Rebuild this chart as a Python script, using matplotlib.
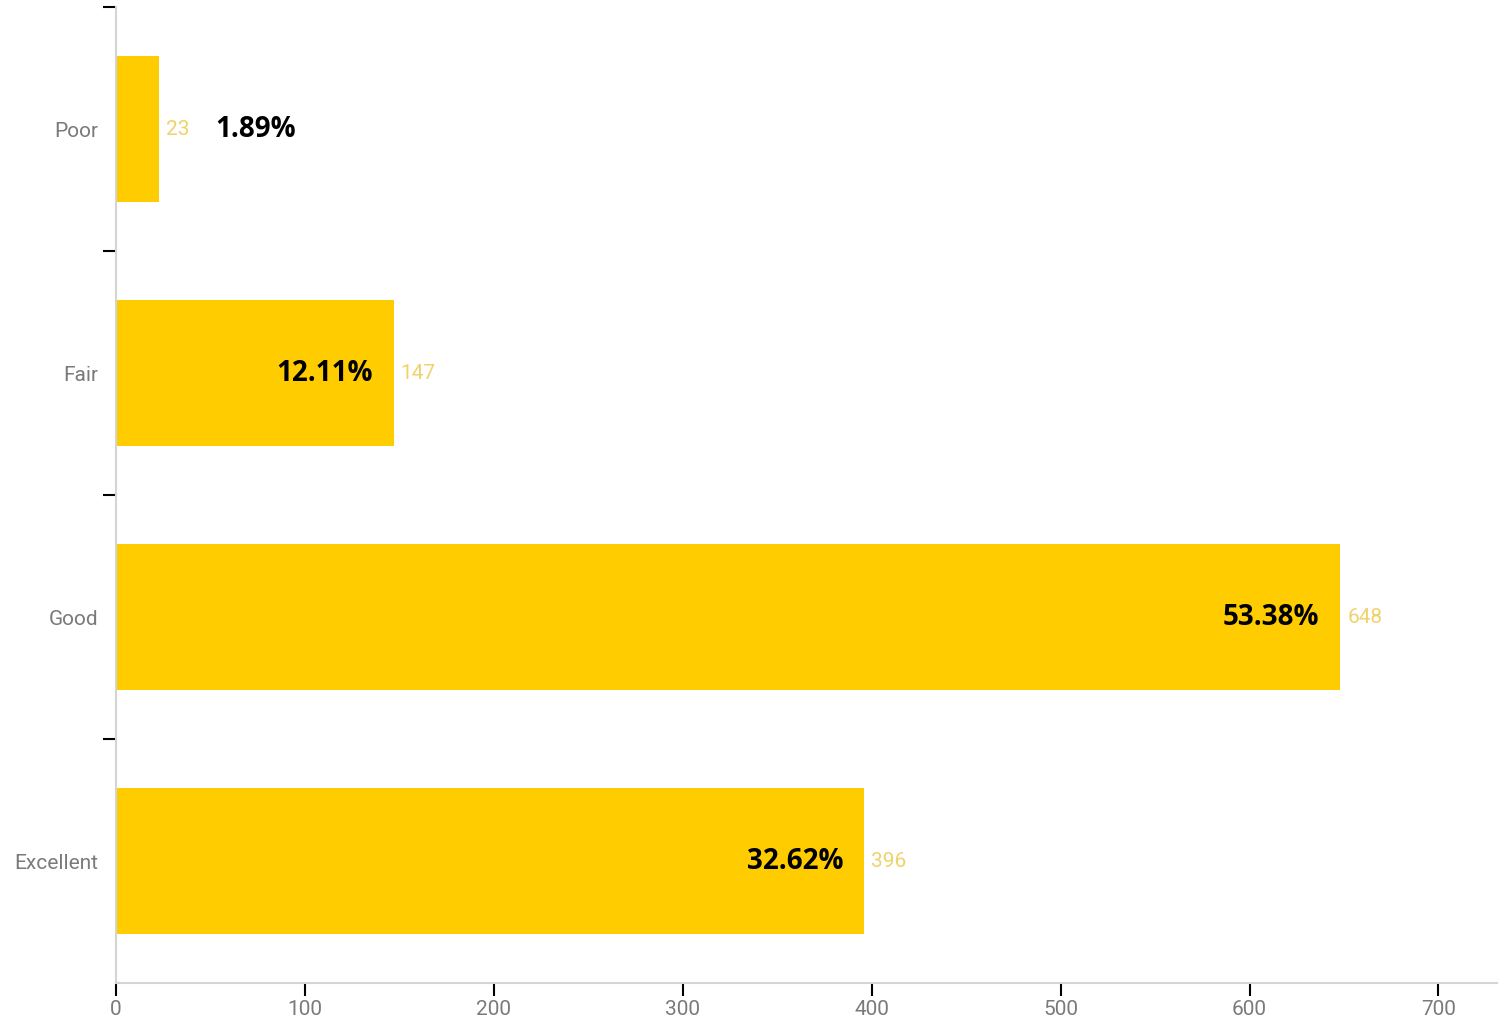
import matplotlib
matplotlib.use("Agg")
import matplotlib.pyplot as plt
import numpy as np

categories = ["Excellent", "Good", "Fair", "Poor"]
counts = [396, 648, 147, 23]
percent_labels = ["32.62%", "53.38%", "12.11%", "1.89%"]
percent_inside = [True, True, True, False]
x_ticks = [0, 100, 200, 300, 400, 500, 600, 700]

bar_color = "#FFCC00"
value_color = "#F0D26A"
tick_label_color = "#7a7a7a"
spine_color = "#d4d4d4"

fig = plt.figure(figsize=(14.99, 10.21), dpi=100)
ax = fig.add_axes([116/1499, 38/1021, (1497-116)/1499, (1014-38)/1021])

y = np.arange(len(categories))
ax.barh(y, counts, height=0.595, color=bar_color, zorder=2)

ax.set_xlim(0, 731)
ax.set_ylim(-0.5, len(categories) - 0.5)

# y ticks at category boundaries (except the bottom), labels at centers
ax.set_yticks(np.arange(1, len(categories) + 1) - 0.5)
ax.set_yticklabels([])
ax.set_yticks(y, minor=True)
ax.set_yticklabels(categories, minor=True)
ax.tick_params(axis="y", which="major", length=9.5, width=1.5, color="black", direction="out")
ax.tick_params(axis="y", which="minor", length=0, pad=13, labelsize=15, labelcolor=tick_label_color)

ax.set_xticks(x_ticks)
ax.set_xticklabels([str(t) for t in x_ticks])
ax.tick_params(axis="x", length=9, width=1.5, color="black", direction="out",
               labelsize=15, labelcolor=tick_label_color, pad=3)

for lab in ax.get_yticklabels(minor=True) + ax.get_xticklabels():
    lab.set_fontfamily("Roboto")

for s in ["top", "right"]:
    ax.spines[s].set_visible(False)
for s in ["left", "bottom"]:
    ax.spines[s].set_color(spine_color)
    ax.spines[s].set_linewidth(1.5)

for yi, c, p, inside in zip(y, counts, percent_labels, percent_inside):
    ax.annotate(str(c), xy=(c, yi), xytext=(5, 0), textcoords="offset points",
                ha="left", va="center", fontsize=15, color=value_color, family="Roboto")
    if inside:
        ax.annotate(p, xy=(c, yi), xytext=(-15, 0), textcoords="offset points",
                    ha="right", va="center", fontsize=20, fontweight="bold",
                    color="black", family="Open Sans")
    else:
        ax.annotate(p, xy=(c, yi), xytext=(40, 0), textcoords="offset points",
                    ha="left", va="center", fontsize=20, fontweight="bold",
                    color="black", family="Open Sans")

fig.savefig("out.png", dpi=100)
